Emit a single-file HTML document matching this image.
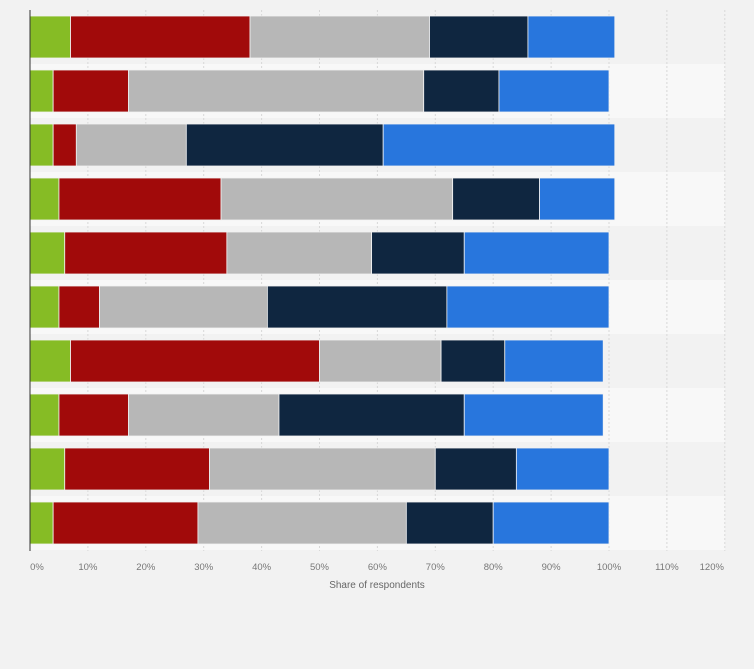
<!DOCTYPE html>
<html><head><meta charset="utf-8"><style>
html,body{margin:0;padding:0;background:#f2f2f2;}
svg{display:block;font-family:"Liberation Sans",sans-serif;}
</style></head><body>
<svg id="chart" width="754" height="669">
<rect x="0" y="0" width="754" height="669" fill="#f2f2f2"/>
<g id="bands"></g><g id="grid"></g><g id="bars"></g><g id="axis"></g>
<text x="377" y="588" text-anchor="middle" font-size="10" fill="#666">Share of respondents</text>
</svg>
<script>
const categories = ["Row 1","Row 2","Row 3","Row 4","Row 5","Row 6","Row 7","Row 8","Row 9","Row 10"];
const seriesA = [7,4,4,5,6,5,7,5,6,4];
const seriesB = [31,13,4,28,28,7,43,12,25,25];
const seriesC = [31,51,19,40,25,29,21,26,39,36];
const seriesD = [17,13,34,15,16,31,11,32,14,15];
const seriesE = [15,19,40,13,25,28,17,24,16,20];
const tickValues = [0,10,20,30,40,50,60,70,80,90,100,110,120];
const tickLabels = ["0%","10%","20%","30%","40%","50%","60%","70%","80%","90%","100%","110%","120%"];
const colors = ["#86bc25","#a10a0a","#b7b7b7","#0f2640","#2876dd"];
const NS="http://www.w3.org/2000/svg";
const x0=30, pxPer=5.79, plotTop=10, rowH=54, barH=42, plotBottom=551;
const xs=v=>x0+v*pxPer;
const yRow=i=>plotTop+i*rowH;
function mk(tag,attrs,parent){const e=document.createElementNS(NS,tag);for(const k in attrs)e.setAttribute(k,attrs[k]);parent.appendChild(e);return e;}
const bands=document.getElementById('bands'),grid=document.getElementById('grid'),bars=document.getElementById('bars'),axis=document.getElementById('axis');
categories.forEach((c,i)=>{
  const r=mk('rect',{x:x0,y:yRow(i),width:xs(120)-x0,height:rowH,fill:i%2?'#f8f8f8':'#f2f2f2'},bands);
  
  
});
tickValues.forEach((v,j)=>{
  if(v>0){const l=mk('line',{x1:xs(v),x2:xs(v),y1:plotTop,y2:plotBottom,stroke:'#d8d8d8','stroke-dasharray':'2,2'},grid);
  
  }
  let off=0;
  if(j===0) off=7;
  if(j===tickValues.length-1) off=-13;
  const t=mk('text',{x:xs(v)+off,y:570,'text-anchor':'middle','font-size':'9.5',fill:'#777'},axis);
  t.textContent=tickLabels[j];
  
  
});
const series=[seriesA,seriesB,seriesC,seriesD,seriesE];
categories.forEach((c,i)=>{
  let cum=0;
  series.forEach((s,k)=>{
    const v=s[i];
    const r=mk('rect',{x:xs(cum),y:yRow(i)+6,width:v*pxPer,height:barH,fill:colors[k],stroke:'#f2f2f2','stroke-width':'0.8'},bars);
    
    
    cum+=v;
  });
});
const ax=mk('line',{x1:x0,x2:x0,y1:plotTop,y2:plotBottom,stroke:'#333','stroke-width':'1'},axis);


</script>
</body></html>
